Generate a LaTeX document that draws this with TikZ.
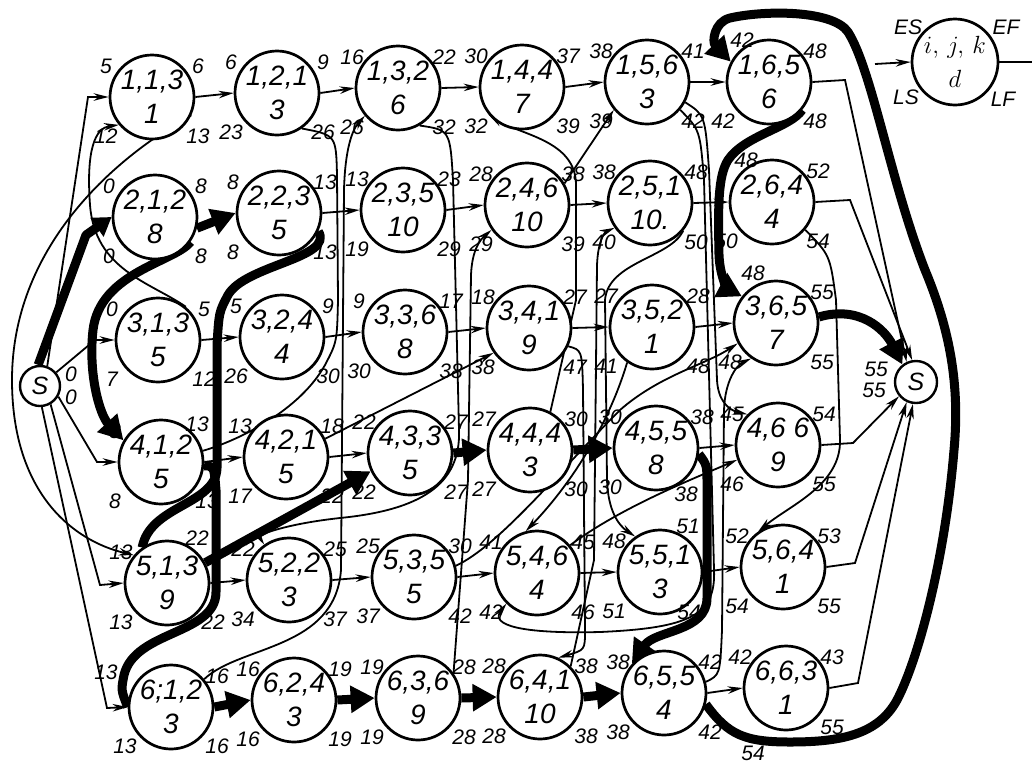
\documentclass[tikz,border=0pt]{standalone}
\usepackage{fontspec}
\setmainfont{Liberation Sans}
\usetikzlibrary{arrows.meta}
\pgfdeclarelayer{bg}
\pgfsetlayers{bg,main}
\tikzset{
  jobc/.style={circle, draw, line width=2.7pt, fill=white, minimum size=84pt, inner sep=0pt, align=center, font=\fontsize{28}{34}\selectfont\itshape},
  endc/.style={circle, draw, line width=2.4pt, fill=white, minimum size=40pt, inner sep=0pt, font=\fontsize{25}{25}\selectfont\itshape},
  lab/.style={inner sep=0pt, font=\fontsize{21}{21}\selectfont\itshape},
  arr/.style={line width=1.8pt, -{Stealth[length=15pt,width=7.5pt]}},
  ln/.style={line width=1.8pt},
  crit/.style={line width=9pt, line join=round, -{Triangle[length=24pt,width=26pt]}},
  critl/.style={line width=9pt, line join=round},
}
\newcommand\jn[9]{%
  \node[jobc] (#1) at (#2,#3) {#4\\#5};
  \node[lab] (#1es) at (#2-46,#3-31) {#6};
  \node[lab] (#1ef) at (#2+46,#3-31) {#7};
  \node[lab] (#1ls) at (#2-46,#3+39) {#8};
  \node[lab] (#1lf) at (#2+46,#3+39) {#9};
}
\begin{document}
\begin{tikzpicture}[x=1pt,y=-1pt]
\useasboundingbox (0,0) rectangle (1032,766);
% start / finish
\node[endc] (S) at (40,386) {S};
\node[lab] (S0a) at (71,374) {0};
\node[lab] (S0b) at (71,397) {0};
\node[endc, minimum size=42pt] (F) at (916,382) {S};
\node[lab] (F55a) at (876,369) {55};
\node[lab] (F55b) at (874,390) {55};
% legend
\node[jobc, minimum size=86pt] (leg) at (955,62) {$i,\,j,\,k$\\$d$};
\node[lab] (leges) at (908,27) {ES};
\node[lab] (legef) at (1006,27) {EF};
\node[lab] (legls) at (906,97) {LS};
\node[lab] (leglf) at (1003,99) {LF};
\coordinate (legin) at (875,64);
\coordinate (legout) at (1032,62);
% row 1
\jn{n113}{152}{97}{1,1,3}{1}{5}{6}{12}{13}
\jn{n121}{277}{93}{1,2,1}{3}{6}{9}{23}{26}
\jn{n132}{398}{88}{1,3,2}{6}{16}{22}{26}{32}
\jn{n144}{522}{87}{1,4,4}{7}{30}{37}{32}{39}
\jn{n156}{647}{82}{1,5,6}{3}{38}{41}{39}{42}
\jn{n165}{769}{82}{1,6,5}{6}{}{48}{42}{48}
\node[lab] (n165es2) at (742,40) {42};
% row 2
\jn{n212}{155}{217}{2,1,2}{8}{0}{8}{0}{8}
\jn{n223}{279}{213}{2,2,3}{5}{8}{13}{8}{13}
\jn{n235}{403}{210}{2,3,5}{10}{13}{23}{19}{29}
\jn{n246}{527}{205}{2,4,6}{10}{28}{38}{29}{39}
\jn{n251}{650}{203}{2,5,1}{10.}{38}{48}{40}{50}
\jn{n264}{772}{202}{2,6,4}{4}{}{52}{50}{54}
\node[lab] (n264es2) at (746,160) {48};
% row 3
\jn{n313}{158}{340}{3,1,3}{5}{0}{5}{7}{12}
\jn{n324}{282}{337}{3,2,4}{4}{5}{9}{26}{30}
\jn{n336}{405}{332}{3,3,6}{8}{9}{17}{30}{38}
\jn{n341}{529}{328}{3,4,1}{9}{18}{27}{38}{47}
\jn{n352}{652}{327}{3,5,2}{1}{27}{28}{41}{48}
\jn{n365}{776}{323}{3,6,5}{7}{}{55}{48}{55}
\node[lab] (n365es2) at (753,273) {48};
% row 4
\jn{n412}{161}{462}{4,1,2}{5}{8}{}{8}{13}
\node[lab] (n412ef2) at (197,424) {13};
\jn{n421}{286}{457}{4,2,1}{5}{13}{18}{17}{22}
\jn{n433}{410}{453}{4,3,3}{5}{22}{27}{22}{27}
\jn{n444}{530}{450}{4,4,4}{3}{27}{30}{27}{30}
\jn{n455}{656}{448}{4,5,5}{8}{30}{38}{30}{}
\node[lab] (n455lf2) at (686,494) {38};
\jn{n466}{778}{445}{4,6 6}{9}{45}{54}{46}{55}
% row 5
\jn{n513}{167}{583}{5,1,3}{9}{13}{}{13}{22}
\node[lab] (n513ef2) at (197,538) {22};
\jn{n522}{289}{580}{5,2,2}{3}{22}{25}{34}{37}
\jn{n535}{414}{577}{5,3,5}{5}{25}{30}{37}{42}
\jn{n546}{537}{573}{5,4,6}{4}{41}{45}{42}{46}
\jn{n551}{660}{572}{5,5,1}{3}{48}{}{51}{}
\node[lab] (n551ef2) at (688,526) {51};
\node[lab] (n551lf2) at (689,612) {54};
\jn{n564}{783}{567}{5,6,4}{1}{52}{53}{54}{55}
% row 6
\jn{n612}{171}{707}{6;1,2}{3}{}{16}{13}{16}
\node[lab] (n612es2) at (106,672) {13};
\jn{n624}{294}{700}{6,2,4}{3}{16}{19}{16}{19}
\jn{n636}{418}{698}{6,3,6}{9}{19}{28}{19}{28}
\jn{n641}{540}{697}{6,4,1}{10}{28}{38}{28}{38}
\jn{n655}{664}{693}{6,5,5}{4}{38}{42}{38}{42}
\jn{n663}{786}{688}{6,6,3}{1}{42}{43}{}{55}
\node[lab] (n663ls2) at (753,753) {54};

\begin{pgfonlayer}{bg}
% from start
\draw[arr] (S.70) -- (88,97) -- (n113.west);
\draw[arr] (S.40) -- (95,340) -- (n313.west);
\draw[arr] (S.-30) -- (97,462) -- (n412.west);
\draw[arr] (S.-60) -- (100,585) -- (n513.west);
\draw[arr] (S.-85) -- (107,708) -- (n612.west);
% job arcs (thin)
\draw[arr] (n113.east) -- (n121.west);
\draw[arr] (n121.east) -- (n132.west);
\draw[arr] (n132.east) -- (n144.west);
\draw[arr] (n144.east) -- (n156.west);
\draw[arr] (n156.east) -- (n165.west);
\draw[arr] (n223.east) -- (n235.west);
\draw[arr] (n235.east) -- (n246.west);
\draw[arr] (n246.east) -- (n251.west);
\draw[arr] (n251.east) -- (n264.west);
\draw[arr] (n313.east) -- (n324.west);
\draw[arr] (n324.east) -- (n336.west);
\draw[arr] (n336.east) -- (n341.west);
\draw[arr] (n341.east) -- (n352.west);
\draw[arr] (n352.east) -- (n365.west);
\draw[arr] (n412.east) -- (n421.west);
\draw[arr] (n421.east) -- (n433.west);
\draw[arr] (n455.east) -- (n466.west);
\draw[arr] (n513.east) -- (n522.west);
\draw[arr] (n522.east) -- (n535.west);
\draw[arr] (n535.east) -- (n546.west);
\draw[arr] (n546.east) -- (n551.west);
\draw[arr] (n551.east) -- (n564.west);
\draw[arr] (n655.east) -- (n663.west);
% long thin arcs
\draw[arr] (n313.50) .. controls (150,282) and (95,270) .. (90,205) .. controls (86,150) and (95,128) .. (n113.220);
\draw[arr] (n113.-25) .. controls (110,160) and (12,250) .. (12,380) .. controls (12,490) and (70,540) .. (n513.140);
\draw[arr] (n612.40) .. controls (240,645) and (335,650) .. (341,570) -- (344,190) .. controls (345,150) and (352,130) .. (n132.220);
\draw[ln] (n412.15) .. controls (240,440) and (300,410) .. (325,365) .. controls (337,342) .. (338,300) -- (337,175) .. controls (336,135) .. (n121.-55);
\draw[arr] (n132.-60) .. controls (450,130) .. (453,180) -- (459,430) .. controls (461,485) and (420,510) .. (340,518) .. controls (285,524) and (258,535) .. (n522.125);
\draw[arr] (n636.35) -- (468,480) -- (471,275) .. controls (472,250) and (480,240) .. (n246.215);
\draw[arr] (n444.62) -- (576,300) -- (576,185) .. controls (576,140) and (520,135) .. (n144.220);
\draw[arr] (n246.30) -- (n156.220);
\draw[arr] (n421.25) -- (n341.215);
\draw[arr] (n341.-25) .. controls (582,350) .. (583,390) -- (585,630) .. controls (585,650) .. (n641.65);
\draw[arr] (n641.45) -- (594,560) -- (597,265) .. controls (598,240) and (605,232) .. (n251.215);
\draw[arr] (n251.-40) .. controls (670,258) and (608,262) .. (605,300) -- (607,480) .. controls (608,510) and (618,525) .. (n551.125);
\draw[arr] (n156.-40) .. controls (700,130) .. (704,180) -- (714,570) .. controls (716,615) and (690,628) .. (600,632) .. controls (520,634) and (490,625) .. (n546.225);
\draw[arr] (n156.-28) .. controls (705,115) .. (709,170) -- (717,380) .. controls (718,400) and (728,410) .. (n466.135);
\draw[arr] (n546.40) .. controls (620,508) and (690,480) .. (n466.200);
\draw[arr] (n264.-40) .. controls (830,255) .. (836,300) -- (840,440) .. controls (841,485) and (790,505) .. (n564.125);
\draw[arr] (n535.15) .. controls (500,545) and (560,470) .. (620,410) .. controls (660,375) and (705,365) .. (n365.208);
\draw[arr] (n352.235) .. controls (610,420) and (575,480) .. (n546.105);
\draw[arr] (n655.15) .. controls (720,675) .. (722,630) -- (724,410) .. controls (725,380) and (737,365) .. (n365.235);
% to finish
\draw[arr] (n165.east) -- (845,80) -- (F.115);
\draw[arr] (n264.east) -- (850,200) -- (F.100);
\draw[arr] (n466.east) -- (853,443) -- (F.220);
\draw[arr] (n564.east) -- (855,563) -- (F.245);
\draw[arr] (n663.east) -- (858,683) -- (F.262);
% legend arrows
\draw[arr] (legin) -- (leg.west);
\draw[ln] (leg.east) -- (legout);
% critical path
\draw[critl, -{Triangle[length=18pt,width=22pt]}] (S.95) -- (86,235) -- (n212.west);
\draw[crit] (n212.-15) -- (n223.west);
\draw[crit] (n212.-35) .. controls (175,262) and (100,272) .. (93,330) .. controls (88,375) and (100,415) .. (n412.150);
\draw[critl] (n223.-25) .. controls (335,258) and (245,265) .. (228,295) .. controls (219,312) .. (217,345) -- (217,468) .. controls (216,505) and (150,505) .. (n513.125);
\draw[critl] (n412.-5) .. controls (214,466) .. (216,490) -- (216,592) .. controls (216,635) and (135,630) .. (124,675) .. controls (121,690) .. (n612.180);
\draw[crit] (n513.28) -- (n433.205);
\draw[crit] (n612.east) -- (n624.west);
\draw[crit] (n624.east) -- (n636.west);
\draw[crit] (n636.east) -- (n641.west);
\draw[crit] (n641.east) -- (n655.west);
\draw[crit] (n433.east) -- (n444.west);
\draw[crit] (n444.east) -- (n455.west);
\draw[crit] (n455.-8) .. controls (707,465) .. (707,485) -- (707,598) .. controls (707,632) and (655,630) .. (n655.138);
\draw[crit] (n655.-15) .. controls (728,735) and (745,742) .. (790,742) .. controls (840,742) and (878,735) .. (897,700) .. controls (918,660) and (945,560) .. (954,450) .. controls (960,385) and (950,330) .. (925,270) .. controls (890,180) and (872,70) .. (848,32) .. controls (833,10) and (765,10) .. (730,18) .. controls (714,22) and (712,42) .. (n165.152);
\draw[crit] (n165.-40) .. controls (790,128) and (745,135) .. (728,160) .. controls (718,176) and (718,205) .. (719,255) .. controls (720,280) and (730,290) .. (n365.142);
\draw[crit] (n365.8) .. controls (860,305) and (885,330) .. (F.128);
\end{pgfonlayer}
\end{tikzpicture}
\end{document}
